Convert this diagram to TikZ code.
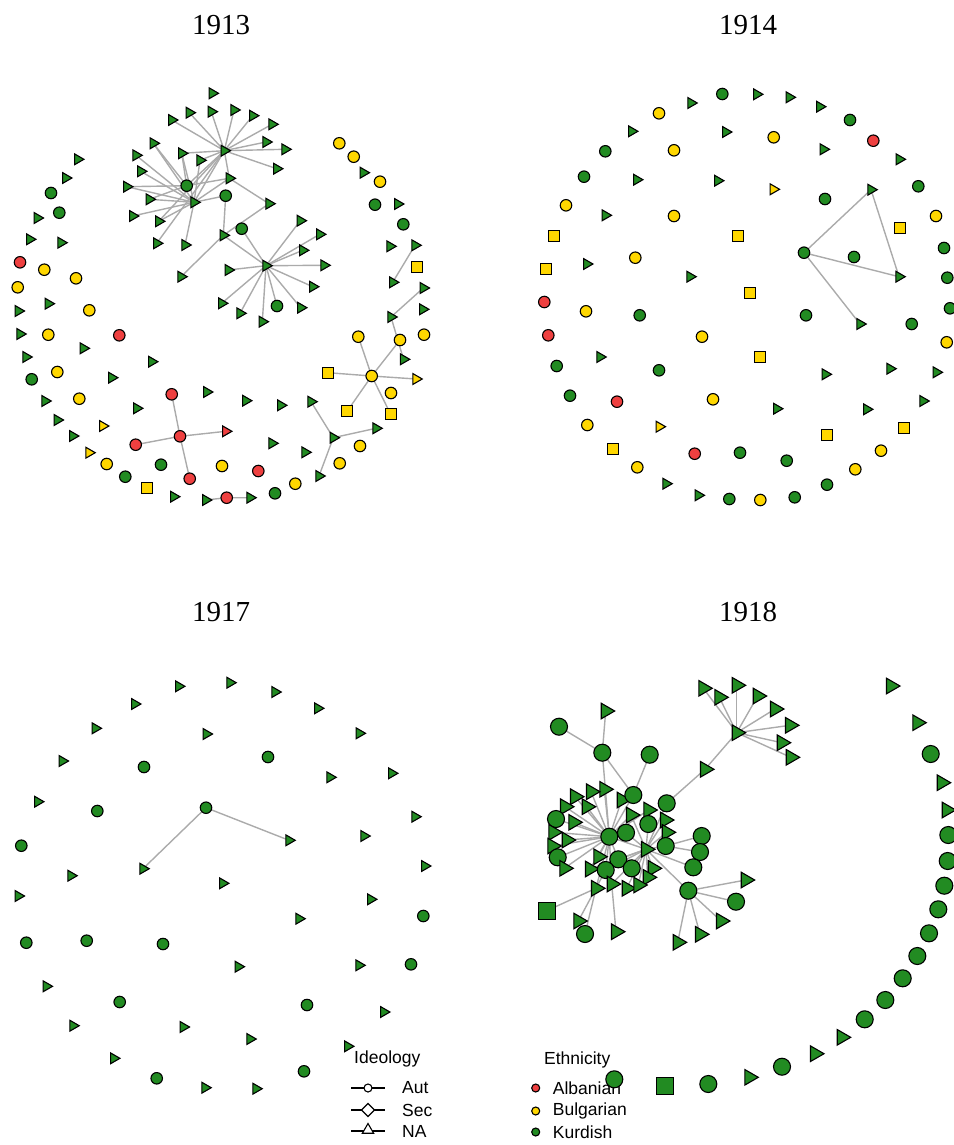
\documentclass[tikz,border=0pt]{standalone}
\usepackage{fontspec}
\setmainfont{Liberation Serif}
\newfontfamily\legfont{Liberation Sans}
\usepackage{tikz}
\usetikzlibrary{shapes.geometric,backgrounds}
\definecolor{Kurd}{HTML}{228B22}
\definecolor{Bulg}{HTML}{FFD700}
\definecolor{Alba}{HTML}{EE4040}
\definecolor{Tie}{HTML}{ABABAB}
\tikzset{
  vx/.style={draw=black,line width=1.1pt,inner sep=0pt,outer sep=0pt},
  aut/.style={vx,circle,minimum size=11.5pt},
  secsq/.style={vx,rectangle,minimum size=11pt},
  natri/.style={vx,regular polygon,regular polygon sides=3,regular polygon rotate=-90,minimum size=12.5pt},
  big/.style={minimum size=17pt},
  bigtri/.style={minimum size=18pt},
  kur/.style={fill=Kurd},
  bul/.style={fill=Bulg},
  alb/.style={fill=Alba},
  tie/.style={draw=Tie,line width=1.4pt},
  yr/.style={font=\fontsize{29}{30}\selectfont,inner sep=0pt},
  key/.style={font=\legfont\fontsize{17.5}{20}\selectfont,anchor=west,inner sep=0pt},
  keyline/.style={draw=black,line width=1.2pt},
  keyc/.style={vx,circle,fill=white,minimum size=8pt},
  keyd/.style={vx,diamond,fill=white,minimum size=13pt},
  keyt/.style={vx,regular polygon,regular polygon sides=3,fill=white,minimum size=13pt},
  keydot/.style={vx,circle,minimum size=8pt}
}

\begin{document}
\begin{tikzpicture}[x=1pt,y=-1pt]
  \useasboundingbox (0,0) rectangle (953,1145);

  % years
  \node[yr] (y13) at (221,25) {1913};
  \node[yr] (y14) at (748,25) {1914};
  \node[yr] (y17) at (221,612) {1917};
  \node[yr] (y18) at (748,612) {1918};

  % ---------------- 1913
  \node[natri,kur] (ah1) at (224.3,150.7) {};
  \node[natri,kur] (ah2) at (194,202.3) {};
  \node[natri,kur] (ah3) at (266,265.7) {};
  \node[natri,kur] (at1) at (189.3,112.7) {};
  \node[natri,kur] (at2) at (211.3,111.7) {};
  \node[natri,kur] (at3) at (234,110) {};
  \node[natri,kur] (at4) at (252.7,115.7) {};
  \node[natri,kur] (at5) at (171.7,120) {};
  \node[natri,kur] (at6) at (272,124.3) {};
  \node[natri,kur] (at7) at (266,142) {};
  \node[natri,kur] (at8) at (285,149.3) {};
  \node[natri,kur] (at9) at (276.7,168.7) {};
  \node[natri,kur] (at10) at (181.7,153.3) {};
  \node[natri,kur] (at11) at (200,160.3) {};
  \node[natri,kur] (at12) at (229.3,178.3) {};
  \node[natri,kur] (at13) at (153.3,143.3) {};
  \node[natri,kur] (at14) at (136,155.3) {};
  \node[natri,kur] (at15) at (140.7,171.3) {};
  \node[natri,kur] (at16) at (126.7,186.7) {};
  \node[natri,kur] (at17) at (149.3,199.3) {};
  \node[natri,kur] (at18) at (132.7,216) {};
  \node[natri,kur] (at19) at (158.7,221.3) {};
  \node[natri,kur] (at20) at (156.7,243.3) {};
  \node[natri,kur] (at21) at (185,245) {};
  \node[aut,kur] (ac1) at (186.7,185.7) {};
  \node[aut,kur] (ac2) at (225.7,195.7) {};
  \node[aut,kur] (ac3) at (241.7,228.7) {};
  \node[natri,kur] (at22) at (269,203.7) {};
  \node[natri,kur] (at23) at (223.3,235.3) {};
  \node[natri,kur] (at24) at (181,276.7) {};
  \node[natri,kur] (at25) at (228.3,270) {};
  \node[natri,kur] (at26) at (300.3,220.7) {};
  \node[natri,kur] (at27) at (319.7,234.3) {};
  \node[natri,kur] (at28) at (302.7,250.3) {};
  \node[natri,kur] (at29) at (324,265.3) {};
  \node[natri,kur] (at30) at (312.7,286.7) {};
  \node[aut,kur] (ac4) at (277,306) {};
  \node[natri,kur] (at31) at (300.7,307.7) {};
  \node[natri,kur] (at32) at (262.3,321.7) {};
  \node[natri,kur] (at33) at (240,313.3) {};
  \node[natri,kur] (at34) at (221.7,303.3) {};

  \node[aut,alb] (ar0) at (180,436.3) {};
  \node[aut,alb] (ar1) at (171.7,394.3) {};
  \node[aut,alb] (ar2) at (135.7,444.7) {};
  \node[aut,alb] (ar3) at (189.7,478.7) {};
  \node[natri,alb] (art) at (225.7,431.3) {};
  \node[natri,kur] (aq1) at (205.7,500) {};
  \node[aut,alb] (aq2) at (226.7,497.7) {};
  \node[natri,kur] (aq3) at (250,497.7) {};
  \node[natri,kur] (ag0) at (333.3,437.7) {};
  \node[natri,kur] (ag1) at (311,401.7) {};
  \node[natri,kur] (ag2) at (376,428.3) {};
  \node[natri,kur] (ag3) at (319,476) {};
  \node[natri,kur] (ak1) at (415,245.3) {};
  \node[natri,kur] (ak2) at (392.7,282.3) {};
  \node[natri,kur] (ak3) at (423.3,288) {};
  \node[natri,kur] (ak4) at (391,317) {};
  \node[natri,kur] (ak5) at (403.5,359.3) {};
  \node[aut,bul] (ay0) at (371.7,376) {};
  \node[aut,bul] (ay1) at (400,340) {};
  \node[aut,bul] (ay2) at (358.3,336.7) {};
  \node[secsq,bul] (ay3) at (328,372.7) {};
  \node[secsq,bul] (ay4) at (347.3,411) {};
  \node[secsq,bul] (ay5) at (390.7,414.3) {};
  \node[natri,bul] (ay6) at (416,379) {};

  \foreach \x/\y [count=\i] in {212.3/93.3,77.7/159.3,65.7/178,37.3/218,29.7/239.3,61/242.7,18.3/311,48.3/303.7,20/334,83.3/348.3,26/357,151.7/361.7,111.7/377.7,45/401,136.7/408.3,206.7/392,245.7/400.7,280.7/405.3,57.3/420,72.7/436,272/443.3,305/452.3,173.7/496.7,363.3/172.7,397.7/204,390/246.3,422.7/309.3}
    \node[natri,kur] (ga\i) at (\x,\y) {};
  \foreach \x/\y [count=\i] in {51/193,59.3/212.7,31.7/379.3,161/464.7,125.3/476.7,275/493.3,375/204.7,403.3/224.3}
    \node[aut,kur] (gb\i) at (\x,\y) {};
  \foreach \x/\y [count=\i] in {44.3/269.7,76/278.3,17.7/287.3,89.3/310.3,48.3/334.7,57.3/372,79.3/398.7,106.7/464,222/466,295.3/483.7,339.7/463.3,360/446,339.3/143.3,353.7/156.7,380/181.7,424/334.7,391/393}
    \node[aut,bul] (gc\i) at (\x,\y) {};
  \foreach \x/\y [count=\i] in {20/262.3,119.3/335.3,258.3/471}
    \node[aut,alb] (gd\i) at (\x,\y) {};
  \foreach \x/\y [count=\i] in {102.7/426,89/452.7}
    \node[natri,bul] (ge\i) at (\x,\y) {};
  \foreach \x/\y [count=\i] in {147/487.7,417.3/266.7}
    \node[secsq,bul] (gf\i) at (\x,\y) {};

  \begin{scope}[on background layer]
    \foreach \v in {at1,at2,at3,at4,at5,at6,at7,at8,at9,at10,at11,at12,ah2,ac1,at19,at20}
      \draw[tie] (ah1) -- (\v);
    \foreach \v in {at13,at14,at15,at16,at17,at18,at19,at21,at11,at12,ac2,at10}
      \draw[tie] (ah2) -- (\v);
    \foreach \v in {at16,at17,at12,at13,at10}
      \draw[tie] (ac1) -- (\v);
    \foreach \v in {at26,at27,at28,at29,at30,at31,at32,at33,at34,ac4,at25,ac3,at23}
      \draw[tie] (ah3) -- (\v);
    \draw[tie] (ac2) -- (at23);
    \draw[tie] (at23) -- (at22);
    \draw[tie] (at23) -- (at24);
    \draw[tie] (at12) -- (at22);
    \foreach \v in {ar1,ar2,ar3,art}
      \draw[tie] (ar0) -- (\v);
    \draw[tie] (aq1) -- (aq2) -- (aq3);
    \foreach \v in {ag1,ag2,ag3}
      \draw[tie] (ag0) -- (\v);
    \draw[tie] (ak1) -- (ak2);
    \draw[tie] (ak3) -- (ak4) -- (ak5);
    \foreach \v in {ay1,ay2,ay3,ay4,ay5,ay6}
      \draw[tie] (ay0) -- (\v);
  \end{scope}

  % ---------------- 1914
  \node[aut,kur] (bh) at (804,252.7) {};
  \node[natri,kur] (bt1) at (871,189.7) {};
  \node[natri,kur] (bt2) at (899,276.7) {};
  \node[natri,kur] (bt3) at (860,324) {};
  \foreach \x/\y [count=\i] in {722.3/94,850/120,605.3/151.3,584/176.7,918.3/186.3,825/199,854/257,944/248,947.3/277.7,639.7/315.3,806/315.3,911.7/324,950/308.3,556.7/366,659/370.3,570/395.7,740/452.7,786.7/460.7,827/484.7,729.3/499,794.7/497.3}
    \node[aut,kur] (ba\i) at (\x,\y) {};
  \foreach \x/\y [count=\i] in {659/113.3,773.7/137.3,674/150.3,566/205.3,674/216,936/216,635.3/257.7,586/311.3,702/336.7,946.7/342.3,713/399.3,587.3/425,881/450.7,637.3/467.3,855.3/469.3,760.3/500}
    \node[aut,bul] (bb\i) at (\x,\y) {};
  \foreach \x/\y [count=\i] in {873.3/140.7,544.3/302,548.3/335.3,617/401.7,694.7/453.7}
    \node[aut,alb] (bc\i) at (\x,\y) {};
  \foreach \x/\y [count=\i] in {756.7/94.3,789.3/97.3,691/103,819.7/106.7,631.7/131.3,725.7/132,823.3/149.3,899.3/159.3,636.7/179.7,717.7/180.7,605.3/215.3,586.7/264,690/276.7,600/357,825.3/374.3,890/368.7,936.3/372.3,776.7/408.7,866.7/409.3,923/401,666/483.7,698.3/495.3}
    \node[natri,kur] (bd\i) at (\x,\y) {};
  \foreach \x/\y [count=\i] in {773.3/189.3,659.3/426.7}
    \node[natri,bul] (be\i) at (\x,\y) {};
  \foreach \x/\y [count=\i] in {900/227.7,554/235.7,738/236,545.7/269,750/293.3,760/356.7,827.3/435.3,904.3/427.7,612.7/448.7}
    \node[secsq,bul] (bf\i) at (\x,\y) {};

  \begin{scope}[on background layer]
    \draw[tie] (bh) -- (bt1) -- (bt2) -- (bh) -- (bt3);
  \end{scope}

  % ---------------- 1917
  \node[aut,kur] (ch) at (206,807.7) {};
  \node[natri,kur] (ct1) at (143,868.7) {};
  \node[natri,kur] (ct2) at (289,840.3) {};
  \foreach \x/\y [count=\i] in {268/757,144/767,97.3/811,21.3/845.7,423.3/916,26.3/942.7,86.7/940.7,163/944,411/964.3,119.7/1002,307/1005,156.7/1078.3,304/1071.3}
    \node[aut,kur] (ca\i) at (\x,\y) {};
  \foreach \x/\y [count=\i] in {178.7/686.3,230/682.7,275/692,134.7/704,317.7/708.3,95.3/728.3,206.3/734,359.3/733.3,62.3/761,330/777.3,391.7/773.3,37.7/801.7,415/816.7,364/836,71/875.7,222.7/883.3,424.7/866,18.3/896,370.7/899.3,299/918.7,238.3/966.7,359/965.3,46.3/986.3,383.7/1012,73/1025.7,183.3/1027,250/1039,347.7/1046.3,113.7/1058.3,205/1087.7,256/1088.7}
    \node[natri,kur] (cb\i) at (\x,\y) {};

  \begin{scope}[on background layer]
    \draw[tie] (ct1) -- (ch) -- (ct2);
  \end{scope}

  % ---------------- 1918
  \node[natri,kur,bigtri] (dh1) at (736.7,732.7) {};
  \foreach \x/\y [count=\i] in {703.3/688.3,719.3/697.3,736.7/685.3,757.7/696,775/709,790/725.3,781.7/742.7,790.7/757.3}
    \node[natri,kur,bigtri] (dk\i) at (\x,\y) {};
  \node[natri,kur,bigtri] (d9) at (705,769.3) {};
  \node[aut,kur,big] (d10) at (666.7,803.3) {};
  \node[natri,kur,bigtri] (d11) at (605.7,711) {};
  \node[aut,kur,big] (d12) at (559,726.7) {};
  \node[aut,kur,big] (d13) at (602.3,752.7) {};
  \node[aut,kur,big] (d14) at (649.7,754.7) {};
  \node[natri,kur,bigtri] (d16) at (604.3,789.3) {};
  \node[natri,kur,bigtri] (d17) at (591,791.7) {};
  \node[natri,kur,bigtri] (d18) at (575,796.7) {};
  \node[natri,kur,bigtri] (d19) at (565,806.7) {};
  \node[natri,kur,bigtri] (d20) at (586.7,806.7) {};
  \node[natri,kur,bigtri] (d21) at (621.7,800) {};
  \node[aut,kur,big] (d15) at (633.3,795) {};
  \node[aut,kur,big] (d22) at (556,819) {};
  \node[natri,kur,bigtri] (d23) at (573.3,822.3) {};
  \node[natri,kur,bigtri] (d24) at (631,815) {};
  \node[natri,kur,bigtri] (d25) at (648.3,810) {};
  \node[aut,kur,big] (d26) at (648.3,824) {};
  \node[natri,kur,bigtri] (d27) at (665,820) {};
  \node[natri,kur,bigtri] (d28) at (553.3,832.3) {};
  \node[natri,kur,bigtri] (d30) at (666.7,832.3) {};
  \node[natri,kur,bigtri] (d32) at (566.7,840) {};
  \node[natri,kur,bigtri] (d33) at (552.3,846) {};
  \node[aut,kur,big] (dc) at (609.3,836.7) {};
  \node[aut,kur,big] (d29) at (626,832.7) {};
  \node[aut,kur,big] (d31) at (701.7,836) {};
  \node[aut,kur,big] (d34) at (665.7,846) {};
  \node[natri,kur,bigtri] (dh2) at (646,849.3) {};
  \node[aut,kur,big] (d35) at (700,852) {};
  \node[aut,kur,big] (d36) at (557.7,857.3) {};
  \node[natri,kur,bigtri] (d37) at (598.3,856.7) {};
  \node[aut,kur,big] (d39) at (693.3,867.3) {};
  \node[natri,kur,bigtri] (d40) at (564.3,868.3) {};
  \node[natri,kur,bigtri] (d41) at (590,869) {};
  \node[natri,kur,bigtri] (d44) at (652.7,868.3) {};
  \node[natri,kur,bigtri] (d45) at (647.7,877.3) {};
  \node[aut,kur,big] (d38) at (618.3,859.3) {};
  \node[aut,kur,big] (d42) at (605.7,870) {};
  \node[aut,kur,big] (d43) at (631.7,868.3) {};
  \node[natri,kur,bigtri] (d46) at (611.7,884) {};
  \node[natri,kur,bigtri] (d47) at (596,888.3) {};
  \node[natri,kur,bigtri] (d48) at (626.7,888.3) {};
  \node[natri,kur,bigtri] (d49) at (638.3,885) {};
  \node[aut,kur,big] (dh3) at (688.3,890.7) {};
  \node[natri,kur,bigtri] (d50) at (745.7,880) {};
  \node[aut,kur,big] (d51) at (736,901.7) {};
  \node[secsq,kur,big] (d52) at (546.7,910.7) {};
  \node[natri,kur,bigtri] (d53) at (578.3,921) {};
  \node[natri,kur,bigtri] (d54) at (721,921) {};
  \node[aut,kur,big] (d55) at (585,934) {};
  \node[natri,kur,bigtri] (d56) at (616,931.7) {};
  \node[natri,kur,bigtri] (d57) at (700,934.3) {};
  \node[natri,kur,bigtri] (d58) at (677.7,942.3) {};

  \foreach \x/\y [count=\i] in {930.7/754,948.3/835,947.7/861,944.3/885.7,938.3/909.3,929/933.3,917.3/956,902.7/978.3,885.3/1000,864.7/1019.3,782/1066.7,708.3/1084}
    \node[aut,kur,big] (da\i) at (\x,\y) {};
  \foreach \x/\y [count=\i] in {891/686,917.3/722.7,941.7/782.7,946.7/810,841.7/1037.3,815/1053.7,749.3/1077.3}
    \node[natri,kur,bigtri] (db\i) at (\x,\y) {};
  \node[secsq,kur,big] (dsq) at (665,1086) {};

  \begin{scope}[on background layer]
    \foreach \v in {dk1,dk2,dk3,dk4,dk5,dk6,dk7,dk8,d9}
      \draw[tie] (dh1) -- (\v);
    \draw[tie] (d9) -- (d10) -- (dh2);
    \draw[tie] (d11) -- (d13);
    \draw[tie] (d12) -- (d13) -- (d15);
    \draw[tie] (d13) -- (dc);
    \draw[tie] (d14) -- (d15) -- (dc);
    \foreach \v in {d16,d17,d18,d19,d20,d21,d22,d23,d28,d32,d33,d36,d40,d37,d41,d42,d47,d46,d24,d29,d38,dh2,d25}
      \draw[tie] (dc) -- (\v);
    \foreach \v in {d26,d27,d30,d34,d44,d45,d49,d48,d43,d38,d42,d41,d46,dh3,d39,d29,d24}
      \draw[tie] (dh2) -- (\v);
    \draw[tie] (d31) -- (d34) -- (d35);
    \foreach \v in {d50,d51,d54,d57,d58}
      \draw[tie] (dh3) -- (\v);
    \draw[tie] (d52) -- (d47);
    \draw[tie] (d55) -- (d47);
    \draw[tie] (d53) -- (d42);
    \draw[tie] (d56) -- (d46);
  \end{scope}

  % ---------------- legend
  \node[key] (ideo) at (354,1059) {Ideology};
  \coordinate (ka0) at (351,1088);
  \coordinate (ka1) at (385,1088);
  \coordinate (kb0) at (351,1110);
  \coordinate (kb1) at (385,1110);
  \coordinate (kc0) at (351,1131);
  \coordinate (kc1) at (385,1131);
  \draw[keyline] (ka0) -- (ka1);
  \draw[keyline] (kb0) -- (kb1);
  \draw[keyline] (kc0) -- (kc1);
  \node[keyc] (kaut) at (368,1088) {};
  \node[keyd] (ksec) at (368,1110) {};
  \node[keyt] (kna) at (368,1130) {};
  \node[key] (taut) at (402,1088) {Aut};
  \node[key] (tsec) at (402,1110) {Sec};
  \node[key] (tna) at (402,1131) {NA};

  \node[key] (ethn) at (544,1060) {Ethnicity};
  \node[keydot,alb] (kalb) at (535.7,1088) {};
  \node[keydot,bul] (kbul) at (535.7,1111) {};
  \node[keydot,kur] (kkur) at (535.7,1132) {};
  \node[key] (talb) at (552.7,1088) {Albanian};
  \node[key] (tbul) at (552.7,1111) {Bulgarian};
  \node[key] (tkur) at (552.7,1132) {Kurdish};

  % ring node drawn over the legend text
  \node[aut,kur,big] (dtop) at (614.3,1079.3) {};
\end{tikzpicture}
\end{document}
